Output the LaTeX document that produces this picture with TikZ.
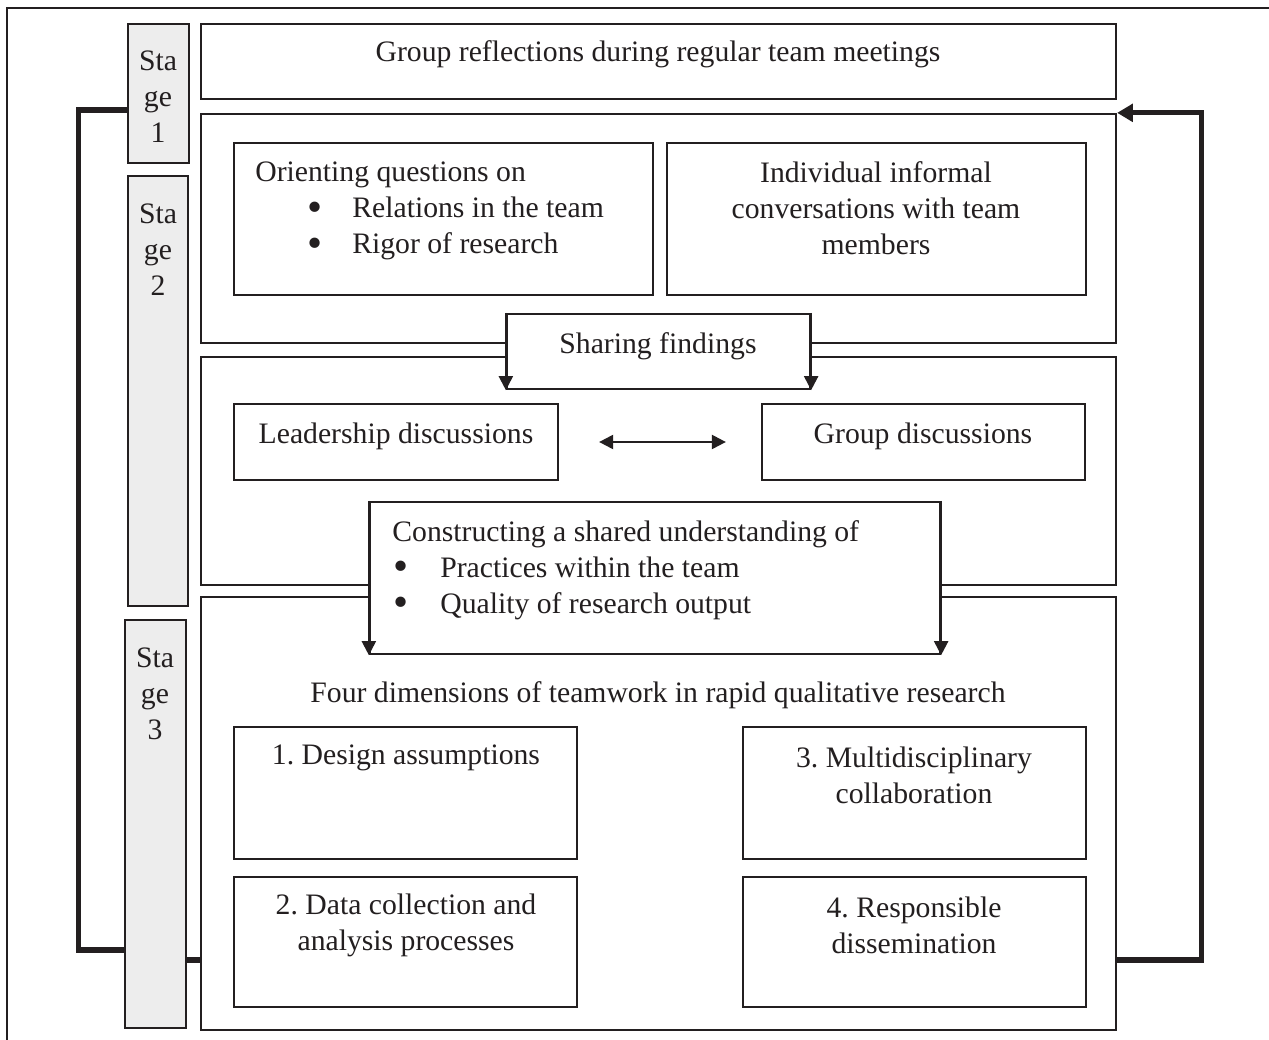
\documentclass[tikz,border=0pt]{standalone}
\usepackage{fontspec}
\setmainfont{Liberation Serif}
\usetikzlibrary{positioning,fit,arrows.meta}
\definecolor{ink}{HTML}{231F20}
\definecolor{stagegrey}{HTML}{EDEDED}
\newcommand{\bigdot}{\smash{\raisebox{-0.12em}{\scalebox{1.45}{\textbullet}}}}

\begin{document}
\begin{tikzpicture}[x=0.02cm,y=-0.02cm,
    panel/.style={draw=ink,line width=1.3pt,inner sep=0pt,fill=white},
    stagebox/.style={panel,fill=stagegrey},
    txt/.style={inner sep=0pt,align=center,text=ink,font=\fontsize{16.9}{20.4}\selectfont},
    feedback/.style={draw=ink,line width=3pt},
    tip/.style={draw=ink,line width=1.3pt,-{Triangle[length=8pt,width=8pt]}}]
    \useasboundingbox (0,0) rectangle (1269,1040);
    \draw[ink,line width=1pt] (7,1040) -- (7,8) -- (1269,8);

    % stages
    \node[stagebox, fit={(128,24) (189,163)}]  (stage1) {};
    \node[stagebox, fit={(128,176) (188,606)}] (stage2) {};
    \node[stagebox, fit={(125,620) (186,1028)}] (stage3) {};
    \node[txt] (s1) at (158,97)  {Sta\\ge\\1};
    \node[txt] (s2) at (158,250) {Sta\\ge\\2};
    \node[txt] (s3) at (155,694) {Sta\\ge\\3};

    % panels
    \node[panel, fit={(201,24) (1116,99)}]   (reflect) {};
    \node[panel, fit={(201,114) (1116,343)}] (explore) {};
    \node[panel, fit={(201,357) (1116,585)}] (discuss) {};
    \node[panel, fit={(201,597) (1116,1030)}] (dims) {};
    \node[txt] (t-reflect) at (658,54) {Group reflections during regular team meetings};

    % stage 2
    \node[panel, fit={(234,143) (653,295)}]  (orient) {};
    \node[panel, fit={(667,143) (1086,295)}] (informal) {};
    \node[txt, align=left, anchor=west] (t-orient) at (255,211)
        {Orienting questions on\\
         \hspace*{1.04cm}\makebox[0.90cm][l]{\bigdot}Relations in the team\\
         \hspace*{1.04cm}\makebox[0.90cm][l]{\bigdot}Rigor of research};
    \node[txt] (t-informal) at (876,208) {Individual informal\\conversations with team\\members};

    \node[panel, fit={(507,314) (810,389)}] (share) {};
    \node[txt] (t-share) at (658,346) {Sharing findings};
    \draw[tip] (share.north west) -- (share.south west);
    \draw[tip] (share.north east) -- (share.south east);

    \node[panel, fit={(234,404) (558,480)}]  (leader) {};
    \node[panel, fit={(762,404) (1085,480)}] (group) {};
    \node[txt] (t-leader) at (396,436) {Leadership discussions};
    \node[txt] (t-group)  at (923,436) {Group discussions};
    \draw[draw=ink,line width=1.3pt,{Triangle[length=8pt,width=8pt]}-{Triangle[length=8pt,width=8pt]},
        shorten <=0.8cm, shorten >=0.7cm] (leader) -- (group);

    \node[panel, fit={(370,502) (940,654)}] (construct) {};
    \node[txt, align=left, anchor=west] (t-construct) at (392,570)
        {Constructing a shared understanding of\\
         \hspace*{0.02cm}\makebox[0.94cm][l]{\bigdot}Practices within the team\\
         \hspace*{0.02cm}\makebox[0.94cm][l]{\bigdot}Quality of research output};
    \draw[tip] (construct.north west) -- (construct.south west);
    \draw[tip] (construct.north east) -- (construct.south east);

    % stage 3
    \node[txt] (t-dims) at (658,695) {Four dimensions of teamwork in rapid qualitative research};
    \node[panel, fit={(234,727) (577,859)}]  (design) {};
    \node[panel, fit={(743,727) (1086,859)}] (collab) {};
    \node[panel, fit={(234,877) (577,1007)}] (process) {};
    \node[panel, fit={(743,877) (1086,1007)}] (dissem) {};
    \node[txt] (t-design)  at (406,758) {1.\ Design assumptions};
    \node[txt] (t-collab)  at (914,775) {3.\ Multidisciplinary\\collaboration};
    \node[txt] (t-process) at (406,925) {2.\ Data collection and\\analysis processes};
    \node[txt] (t-dissem)  at (914,925) {4.\ Responsible\\dissemination};

    % feedback loop
    \coordinate (fbin) at ([yshift=-2.93cm]dims.west);
    \draw[feedback] ([yshift=-0.33cm]stage1.west) -- ++(-48,0) |- ([yshift=-2.52cm]stage3.west);
    \draw[feedback] (fbin) -- (fbin -| stage3.east);
    \draw[feedback,-{Triangle[length=9pt,width=10pt]}] ([yshift=-2.93cm]dims.east) -- ++(84,0) |- (explore.north east);
\end{tikzpicture}
\end{document}
